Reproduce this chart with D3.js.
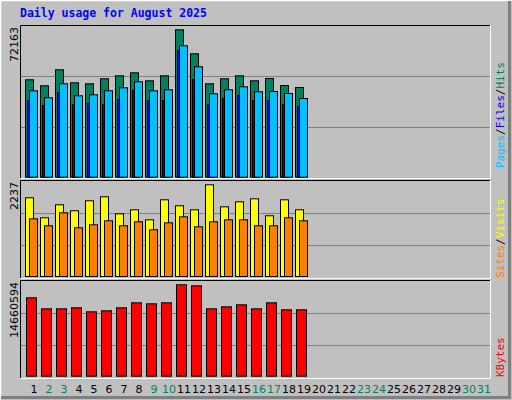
<!DOCTYPE html>
<html><head><meta charset="utf-8">
<script src="https://cdn.jsdelivr.net/npm/d3@7"></script>
<style>body{margin:0;background:#fff}</style>
</head><body>
<script>
var days = d3.range(1, 32);
var weekend = [2, 3, 9, 10, 16, 17, 23, 24, 30, 31];
var hits  = [47687,44749,52583,46218,45729,48177,49645,51114,47197,49645,72163,60417,45729,48177,49645,47197,48324,44896,43917,0];
var files = [37552,35104,41469,35594,36084,35594,38042,42448,37552,37552,62032,47834,35594,38532,40000,37552,37552,35594,34615,0];
var pages = [42301,38874,45729,39853,40343,42301,43770,46708,42301,42790,64333,54052,40832,42790,44260,41812,41958,40980,38532,0];
var visits = [1920,1432,1749,1603,1847,1944,1529,1627,1383,1871,1725,1627,2237,1700,1822,1895,1481,1871,1627,0];
var sites  = [1407,1237,1554,1188,1261,1359,1237,1334,1139,1310,1456,1212,1334,1383,1383,1237,1237,1432,1359,0];
var kbytes = [12574000,10808000,10808000,10969000,10327000,10487000,10969000,11771000,11611000,11771000,14660594,14500000,10808000,11129000,11450000,10808000,11771000,10648000,10648000,0];

var svg = d3.select("body").append("svg").attr("width", 512).attr("height", 400)
  .style("font-family", "DejaVu Sans");

// outer frame
svg.append("rect").attr("width", 512).attr("height", 400).attr("fill", "#c0c0c0");
svg.append("path").attr("d", "M0.5,399.5V0.5H511.5").attr("stroke", "#fff").attr("stroke-width", 1.5).attr("fill", "none");
svg.append("path").attr("d", "M1,397.5H509.5V1").attr("stroke", "#808080").attr("stroke-width", 3).attr("fill", "none");

svg.append("text").attr("x", 20).attr("y", 17).attr("fill", "#0000ff")
  .style("font-family", "DejaVu Sans Mono").style("font-weight", "bold").style("font-size", "11.5px")
  .text("Daily usage for August 2025");

var x = d3.scaleLinear().domain([1, 2]).range([25, 40]);

var panels = [
  {top: 25, bot: 178, y0: 176.7, y1: 29.3, max: 72163, label: "72163"},
  {top: 180, bot: 278, y0: 276, y1: 184.3, max: 2237, label: "2237"},
  {top: 280, bot: 378, y0: 375.7, y1: 284.3, max: 14660594, label: "14660594"}
];

panels.forEach(function (p) {
  svg.append("rect").attr("x", 20).attr("y", p.top).attr("width", 470).attr("height", p.bot - p.top).attr("fill", "#c0c0c0");
  var h = p.bot - p.top;
  [1, 2].forEach(function (k) {
    var gy = Math.round(p.top + h * k / 3) + 0.5;
    svg.append("line").attr("x1", 21).attr("x2", 490).attr("y1", gy).attr("y2", gy).attr("stroke", "#808080");
  });
  svg.append("path").attr("d", "M20.5," + (p.bot) + "V" + (p.top + 0.5) + "H490").attr("stroke", "#000").attr("fill", "none");
  svg.append("path").attr("d", "M20.5," + (p.bot + 0.5) + "H490.5V" + (p.top)).attr("stroke", "#fff").attr("fill", "none");
  p.y = d3.scaleLinear().domain([0, p.max]).range([p.y0, p.y1]);
  svg.append("text").attr("transform", "translate(18," + (p.top + 2) + ") rotate(-90)")
    .attr("text-anchor", "end").style("font-size", "11px").attr("fill", "#000").text(p.label);
});

function bars(data, y, dx, w, color) {
  svg.append("g").selectAll("rect").data(data).enter().append("rect")
    .attr("x", function (d, i) { return x(i + 1) + dx + 0.5; })
    .attr("y", function (d) { return y(d) + 0.5; })
    .attr("width", w)
    .attr("height", function (d) { return Math.max(0, y(0) - y(d)); })
    .attr("fill", color).attr("stroke", "#000").attr("stroke-width", function (d) { return d ? 1 : 2; });
}

bars(hits, panels[0].y, 0, 8, "#00805c");
bars(files, panels[0].y, 2, 6, "#0000ff");
bars(pages, panels[0].y, 4, 8, "#00c0ff");
bars(visits, panels[1].y, 0, 8, "#ffff00");
bars(sites, panels[1].y, 4, 8, "#ff8000");
bars(kbytes, panels[2].y, 1, 10, "#ff0000");

svg.append("g").selectAll("text").data(days).enter().append("text")
  .attr("x", function (d) { return x(d) + 9; }).attr("y", 393)
  .attr("text-anchor", "middle").style("font-size", "11px")
  .attr("fill", function (d) { return weekend.indexOf(d) >= 0 ? "#00805c" : "#000"; })
  .text(function (d) { return d; });

function legend(ybase, parts) {
  var t = svg.append("text").attr("transform", "translate(504," + ybase + ") rotate(-90)")
    .style("font-family", "DejaVu Sans Mono").style("font-size", "11px");
  parts.forEach(function (p) { t.append("tspan").attr("fill", p[1]).text(p[0]); });
}
legend(168, [["Pages", "#00c0ff"], ["/", "#000"], ["Files", "#0000ff"], ["/", "#000"], ["Hits", "#00805c"]]);
legend(278, [["Sites", "#ff8000"], ["/", "#000"], ["Visits", "#ffff00"]]);
legend(377, [["KBytes", "#ff0000"]]);
</script>
</body></html>
